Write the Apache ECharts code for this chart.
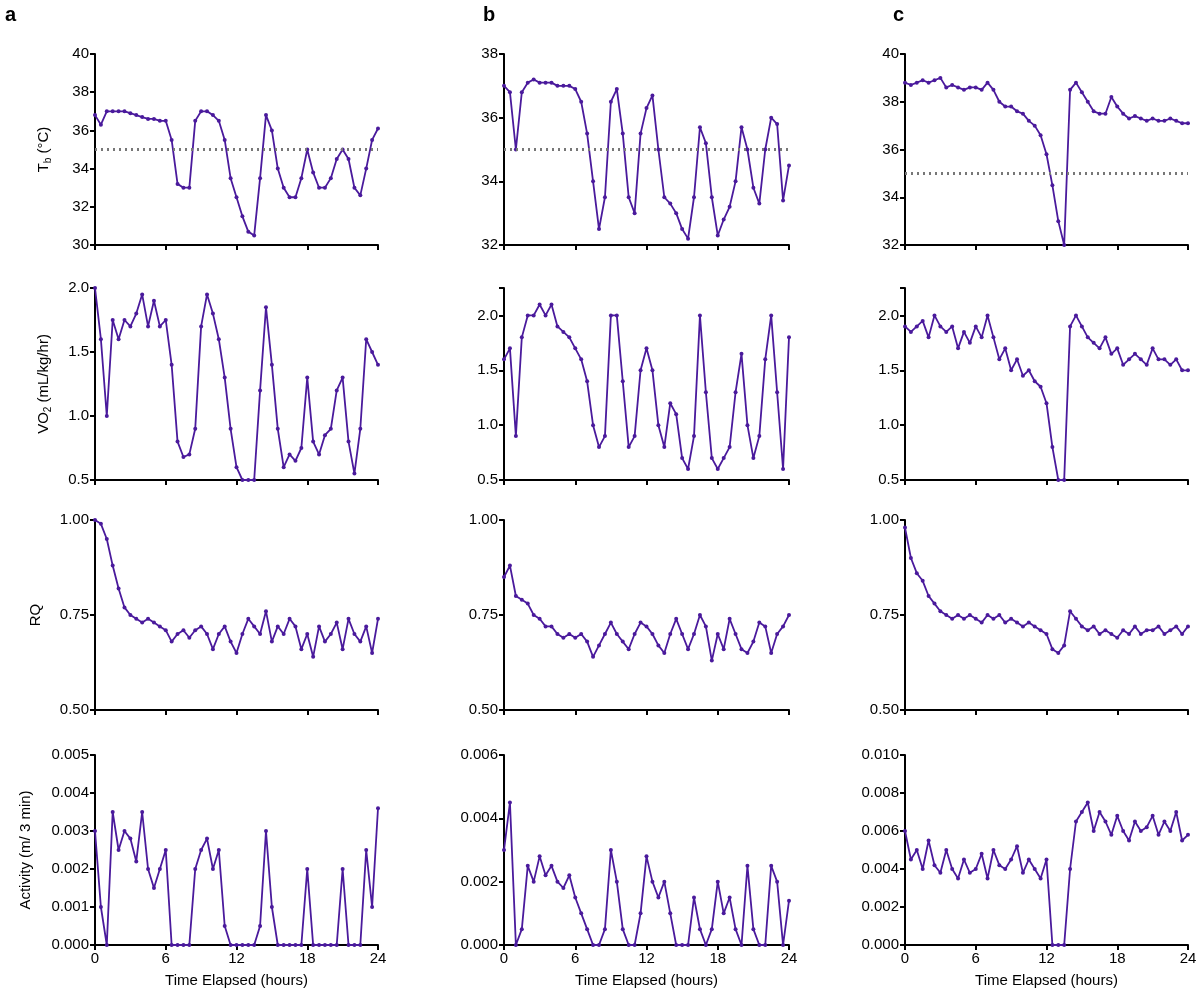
<!DOCTYPE html>
<html><head><meta charset="utf-8">
<script src="https://cdn.jsdelivr.net/npm/echarts@6/dist/echarts.min.js"></script>
<style>html,body{margin:0;padding:0;background:#fff}#c{width:1200px;height:1000px}</style>
</head><body><div id="c"></div>
<script>
const hours = [0,0.5,1,1.5,2,2.5,3,3.5,4,4.5,5,5.5,6,6.5,7,7.5,8,8.5,9,9.5,10,10.5,11,11.5,12,12.5,13,13.5,14,14.5,15,15.5,16,16.5,17,17.5,18,18.5,19,19.5,20,20.5,21,21.5,22,22.5,23,23.5,24];
const xTicks = [0,6,12,18,24];
const tbA = [36.8,36.3,37.0,37.0,37.0,37.0,36.9,36.8,36.7,36.6,36.6,36.5,36.5,35.5,33.2,33.0,33.0,36.5,37.0,37.0,36.8,36.5,35.5,33.5,32.5,31.5,30.7,30.5,33.5,36.8,36.0,34.0,33.0,32.5,32.5,33.5,35.0,33.8,33.0,33.0,33.5,34.5,35.0,34.5,33.0,32.6,34.0,35.5,36.1];
const tbB = [37.0,36.8,35.0,36.8,37.1,37.2,37.1,37.1,37.1,37.0,37.0,37.0,36.9,36.5,35.5,34.0,32.5,33.5,36.5,36.9,35.5,33.5,33.0,35.5,36.3,36.7,35.0,33.5,33.3,33.0,32.5,32.2,33.5,35.7,35.2,33.5,32.3,32.8,33.2,34.0,35.7,35.0,33.8,33.3,35.0,36.0,35.8,33.4,34.5];
const tbC = [38.8,38.7,38.8,38.9,38.8,38.9,39.0,38.6,38.7,38.6,38.5,38.6,38.6,38.5,38.8,38.5,38.0,37.8,37.8,37.6,37.5,37.2,37.0,36.6,35.8,34.5,33.0,32.0,38.5,38.8,38.4,38.0,37.6,37.5,37.5,38.2,37.8,37.5,37.3,37.4,37.3,37.2,37.3,37.2,37.2,37.3,37.2,37.1,37.1];
const vo2A = [2.0,1.6,1.0,1.75,1.6,1.75,1.7,1.8,1.95,1.7,1.9,1.7,1.75,1.4,0.8,0.68,0.7,0.9,1.7,1.95,1.8,1.6,1.3,0.9,0.6,0.5,0.5,0.5,1.2,1.85,1.4,0.9,0.6,0.7,0.65,0.75,1.3,0.8,0.7,0.85,0.9,1.2,1.3,0.8,0.55,0.9,1.6,1.5,1.4];
const vo2B = [1.6,1.7,0.9,1.8,2.0,2.0,2.1,2.0,2.1,1.9,1.85,1.8,1.7,1.6,1.4,1.0,0.8,0.9,2.0,2.0,1.4,0.8,0.9,1.5,1.7,1.5,1.0,0.8,1.2,1.1,0.7,0.6,0.9,2.0,1.3,0.7,0.6,0.7,0.8,1.3,1.65,1.0,0.7,0.9,1.6,2.0,1.3,0.6,1.8];
const vo2C = [1.9,1.85,1.9,1.95,1.8,2.0,1.9,1.85,1.9,1.7,1.85,1.75,1.9,1.8,2.0,1.8,1.6,1.7,1.5,1.6,1.45,1.5,1.4,1.35,1.2,0.8,0.5,0.5,1.9,2.0,1.9,1.8,1.75,1.7,1.8,1.65,1.7,1.55,1.6,1.65,1.6,1.55,1.7,1.6,1.6,1.55,1.6,1.5,1.5];
const rqA = [1.0,0.99,0.95,0.88,0.82,0.77,0.75,0.74,0.73,0.74,0.73,0.72,0.71,0.68,0.70,0.71,0.69,0.71,0.72,0.70,0.66,0.70,0.72,0.68,0.65,0.70,0.74,0.72,0.70,0.76,0.68,0.72,0.70,0.74,0.72,0.66,0.70,0.64,0.72,0.68,0.70,0.73,0.66,0.74,0.70,0.68,0.72,0.65,0.74];
const rqB = [0.85,0.88,0.80,0.79,0.78,0.75,0.74,0.72,0.72,0.70,0.69,0.70,0.69,0.70,0.68,0.64,0.67,0.70,0.73,0.70,0.68,0.66,0.70,0.73,0.72,0.70,0.67,0.65,0.70,0.74,0.70,0.66,0.70,0.75,0.72,0.63,0.70,0.66,0.74,0.70,0.66,0.65,0.68,0.73,0.72,0.65,0.70,0.72,0.75];
const rqC = [0.98,0.90,0.86,0.84,0.80,0.78,0.76,0.75,0.74,0.75,0.74,0.75,0.74,0.73,0.75,0.74,0.75,0.73,0.74,0.73,0.72,0.73,0.72,0.71,0.70,0.66,0.65,0.67,0.76,0.74,0.72,0.71,0.72,0.70,0.71,0.70,0.69,0.71,0.70,0.72,0.70,0.71,0.71,0.72,0.70,0.71,0.72,0.70,0.72];
const actA = [0.003,0.001,0,0.0035,0.0025,0.003,0.0028,0.0022,0.0035,0.002,0.0015,0.002,0.0025,0,0,0,0,0.002,0.0025,0.0028,0.002,0.0025,0.0005,0,0,0,0,0,0.0005,0.003,0.001,0,0,0,0,0,0.002,0,0,0,0,0,0.002,0,0,0,0.0025,0.001,0.0036];
const actB = [0.003,0.0045,0,0.0005,0.0025,0.002,0.0028,0.0022,0.0025,0.002,0.0018,0.0022,0.0015,0.001,0.0005,0,0,0.0005,0.003,0.002,0.0005,0,0,0.001,0.0028,0.002,0.0015,0.002,0.001,0,0,0,0.0015,0.0005,0,0.0005,0.002,0.001,0.0015,0.0005,0,0.0025,0.0005,0,0,0.0025,0.002,0,0.0014];
const actC = [0.006,0.0045,0.005,0.004,0.0055,0.0042,0.0038,0.005,0.004,0.0035,0.0045,0.0038,0.004,0.0048,0.0035,0.005,0.0042,0.004,0.0045,0.0052,0.0038,0.0045,0.004,0.0035,0.0045,0,0,0,0.004,0.0065,0.007,0.0075,0.006,0.007,0.0065,0.0058,0.0068,0.006,0.0055,0.0065,0.006,0.0062,0.0068,0.0058,0.0065,0.006,0.007,0.0055,0.0058];
const thresholdTb = 35;

const purple = '#4a1a9c';
const colLeft = [95, 504, 905], colW = [283, 285, 283];
const rowTop = [54, 288, 520, 755], rowH = [191, 192, 190, 190];
const panels = [
  [[tbA,30,40,2,0],[tbB,32,38,2,0],[tbC,32,40,2,0]],
  [[vo2A,0.5,2.0,0.5,1],[vo2B,0.5,2.25,0.5,1],[vo2C,0.5,2.25,0.5,1]],
  [[rqA,0.5,1.0,0.25,2],[rqB,0.5,1.0,0.25,2],[rqC,0.5,1.0,0.25,2]],
  [[actA,0,0.005,0.001,3],[actB,0,0.006,0.002,3],[actC,0,0.010,0.002,3]]
];
const yNames = ['{n|T}{s|b}{n| (°C)}','{n|VO}{s|2}{n| (mL/kg/hr)}','{n|RQ}','{n|Activity (m/ 3 min)}'];
const grid=[],xAxis=[],yAxis=[],series=[];
let k=0;
for(let r=0;r<4;r++)for(let c=0;c<3;c++){
  const [vals,mn,mx,iv,dec]=panels[r][c];
  grid.push({left:colLeft[c],top:rowTop[r],width:colW[c],height:rowH[r]});
  xAxis.push({gridIndex:k,type:'value',min:0,max:24,interval:6,
    axisLine:{lineStyle:{color:'#000',width:2}},axisTick:{length:5,lineStyle:{color:'#000',width:2}},
    splitLine:{show:false},
    axisLabel:{show:r===3,color:'#000',fontSize:15,fontFamily:'Liberation Sans',margin:6},
    name:r===3?'Time Elapsed (hours)':'',nameLocation:'middle',nameGap:28,
    nameTextStyle:{color:'#000',fontSize:15,fontFamily:'Liberation Sans'}});
  yAxis.push({gridIndex:k,type:'value',min:mn,max:mx,interval:iv,
    axisLine:{show:true,lineStyle:{color:'#000',width:2}},axisTick:{show:true,length:5,lineStyle:{color:'#000',width:2}},
    splitLine:{show:false},
    axisLabel:{color:'#000',fontSize:15,fontFamily:'Liberation Sans',margin:6,
      formatter:v=>{const q=v/iv; if(Math.abs(q-Math.round(q))>1e-6)return ''; return v.toFixed(dec);}},
    name:c===0?yNames[r]:'',nameLocation:'middle',nameGap:r===3?62:(r===2?52:42),
    nameTextStyle:{rich:{n:{fontSize:15,color:'#000',fontFamily:'Liberation Sans'},s:{fontSize:10,color:'#000',verticalAlign:'bottom',padding:[8,0,0,0],fontFamily:'Liberation Sans'}}}});
  const s={type:'line',xAxisIndex:k,yAxisIndex:k,data:hours.map((h,i)=>[h,vals[i]]),
    symbol:'circle',symbolSize:4,showSymbol:true,itemStyle:{color:purple},lineStyle:{color:purple,width:1.8},
    animation:false,clip:true};
  if(r===0)s.markLine={symbol:'none',silent:true,label:{show:false},
    lineStyle:{color:'#777',type:[2,4],width:3},data:[{yAxis:thresholdTb}]};
  series.push(s);k++;
}
const ch=echarts.init(document.getElementById('c'));
ch.setOption({backgroundColor:'#fff',animation:false,grid,xAxis,yAxis,series,
  graphic:[['a',5],['b',483],['c',893]].map(([t,x])=>({type:'text',left:x,top:5,style:{text:t,font:'bold 20px Liberation Sans',fill:'#000'}}))});
</script></body></html>
